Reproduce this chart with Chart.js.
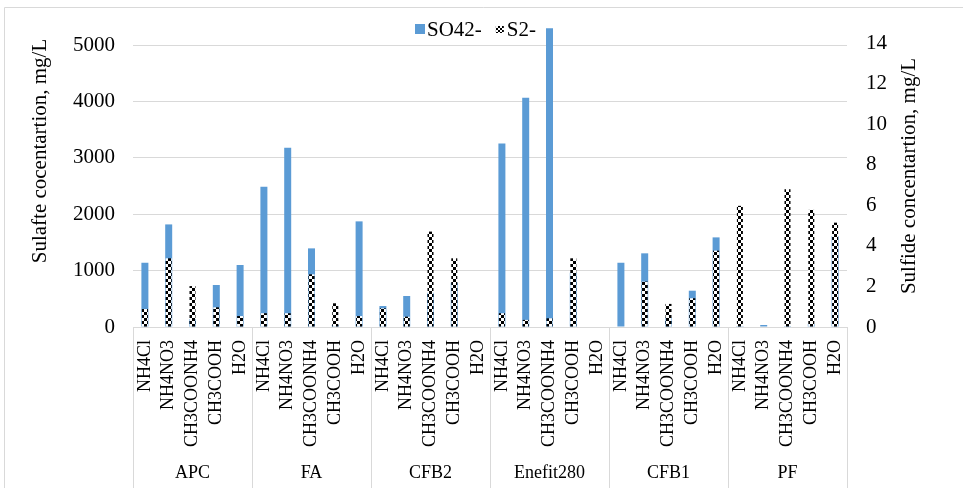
<!DOCTYPE html>
<html>
<head>
<meta charset="utf-8">
<script src="https://cdn.jsdelivr.net/npm/chart.js@4.4.1/dist/chart.umd.min.js"></script>
<style>
  html, body { margin: 0; padding: 0; background: #fff; }
  #wrap { width: 963px; height: 488px; position: relative; }
</style>
</head>
<body>
<div id="wrap"><canvas id="grafica" width="963" height="488"></canvas></div>
<script>
const grupos = ['APC', 'FA', 'CFB2', 'Enefit280', 'CFB1', 'PF'];
const soluciones = ['NH4Cl', 'NH4NO3', 'CH3COONH4', 'CH3COOH', 'H2O'];

// SO42- (mg/L, left axis), one value per group x solution
const sulfato = [
    1140, 1820, 142, 745, 1100,
    2488, 3180, 1395, 35, 1874,
    372, 550, 608, 785, 0,
    3257, 4066, 5301, 963, 0,
    1140, 1307, 165, 644, 1590,
    18, 35, 18, 53, 1613
];
// S2- (mg/L, right axis)
const sulfuro = [
    0.89, 3.39, 2.02, 0.97, 0.54,
    0.68, 0.68, 2.60, 1.17, 0.54,
    0.92, 0.51, 4.71, 3.39, 0,
    0.68, 0.35, 0.43, 3.39, 0,
    0, 2.24, 1.14, 1.42, 3.77,
    5.98, 0, 6.80, 5.78, 5.15
];
const ticksIzq = [0, 1000, 2000, 3000, 4000, 5000];
const ticksDer = [0, 2, 4, 6, 8, 10, 12, 14];
const tituloIzq = 'Sulafte cocentartion, mg/L';
const tituloDer = 'Sulfide concentartion, mg/L';

const etiquetas = [];
grupos.forEach(g => soluciones.forEach(s => etiquetas.push(s)));

const fuente = "'Liberation Serif', 'Times New Roman', serif";
const gris = '#d9d9d9';
const azul = '#5B9BD5';

function crearCuadros(tam) {
    const c = document.createElement('canvas');
    c.width = tam * 2;
    c.height = tam * 2;
    const cx = c.getContext('2d');
    cx.fillStyle = '#fff';
    cx.fillRect(0, 0, tam * 2, tam * 2);
    cx.fillStyle = '#000';
    cx.fillRect(0, 0, tam, tam);
    cx.fillRect(tam, tam, tam, tam);
    return cx.createPattern(c, 'repeat');
}

function textoVertical(ctx, texto, x, y) {
    ctx.save();
    ctx.translate(x, y);
    ctx.rotate(-Math.PI / 2);
    ctx.textAlign = 'center';
    ctx.textBaseline = 'middle';
    ctx.fillText(texto, 0, 0);
    ctx.restore();
}

// frame, group separators, group names, axis titles and legend
const extrasPlugin = {
    id: 'extrasPlugin',
    beforeDraw(chart) {
        const ctx = chart.ctx;
        ctx.save();
        ctx.strokeStyle = gris;
        ctx.lineWidth = 1;
        ctx.beginPath();
        ctx.moveTo(4.5, 488);
        ctx.lineTo(4.5, 7.5);
        ctx.lineTo(963, 7.5);
        ctx.stroke();
        ctx.restore();
    },
    afterDraw(chart) {
        const ctx = chart.ctx;
        const x = chart.scales.x;
        const paso = (x.right - x.left) / etiquetas.length;
        const abajo = chart.chartArea.bottom;
        ctx.save();
        ctx.strokeStyle = gris;
        ctx.lineWidth = 1;
        for (let g = 0; g <= grupos.length; g++) {
            const px = Math.round(x.left + g * soluciones.length * paso) + 0.5;
            ctx.beginPath();
            ctx.moveTo(px, abajo);
            ctx.lineTo(px, 488);
            ctx.stroke();
        }
        ctx.fillStyle = '#000';
        ctx.font = '18px ' + fuente;
        ctx.textAlign = 'center';
        ctx.textBaseline = 'middle';
        grupos.forEach((g, i) => {
            const cx = x.left + (i + 0.5) * soluciones.length * paso;
            ctx.fillText(g, cx, 473);
        });

        ctx.font = '21px ' + fuente;
        textoVertical(ctx, tituloIzq, 40, 151);
        textoVertical(ctx, tituloDer, 909, 176);

        // legend
        const ds = chart.data.datasets;
        ctx.textAlign = 'left';
        ctx.textBaseline = 'middle';
        let lx = 415;
        const ly = 30;
        ctx.fillStyle = ds[0].backgroundColor;
        ctx.fillRect(lx, ly - 6, 10, 10);
        ctx.fillStyle = '#000';
        ctx.fillText(ds[0].label, lx + 12, ly);
        lx = lx + 12 + ctx.measureText(ds[0].label).width + 14;
        ctx.fillStyle = crearCuadros(2);
        ctx.fillRect(lx, ly - 4, 8, 7);
        ctx.fillStyle = '#000';
        ctx.fillText(ds[1].label, lx + 11, ly);
        ctx.restore();
    }
};

const ctx = document.getElementById('grafica').getContext('2d');
new Chart(ctx, {
    type: 'bar',
    data: {
        labels: etiquetas,
        datasets: [
            {
                label: 'SO42-',
                data: sulfato,
                yAxisID: 'y',
                backgroundColor: azul,
                borderWidth: 0,
                inflateAmount: 0,
                barThickness: 7,
                grouped: false,
                order: 2
            },
            {
                label: 'S2-',
                data: sulfuro,
                yAxisID: 'y1',
                backgroundColor: crearCuadros(3),
                borderWidth: 0,
                inflateAmount: 0,
                barThickness: 6,
                grouped: false,
                order: 1
            }
        ]
    },
    options: {
        responsive: false,
        animation: false,
        layout: { padding: { top: 17, left: 10, right: 36, bottom: 0 } },
        plugins: {
            tooltip: { enabled: false },
            legend: { display: false }
        },
        scales: {
            x: {
                grid: { display: false, drawTicks: false },
                border: { display: true, color: gris },
                ticks: {
                    autoSkip: false,
                    minRotation: 90,
                    maxRotation: 90,
                    padding: 13,
                    color: '#000',
                    font: { family: fuente, size: 18 }
                },
                afterFit(scale) { scale.height = 161; }
            },
            y: {
                position: 'left',
                min: 0,
                max: 5500,
                afterBuildTicks(axis) {
                    axis.ticks = ticksIzq.map(v => ({ value: v }));
                },
                grid: { color: gris, lineWidth: 1, drawTicks: true, tickLength: 18, tickColor: 'transparent' },
                border: { display: false },
                ticks: {
                    padding: 0,
                    color: '#000',
                    font: { family: fuente, size: 21 },
                    callback: v => String(v)
                },
                afterFit(scale) { scale.width = 123; }
            },
            y1: {
                position: 'right',
                min: 0,
                max: 15.3,
                afterBuildTicks(axis) {
                    axis.ticks = ticksDer.map(v => ({ value: v }));
                },
                grid: { drawOnChartArea: false, drawTicks: true, tickLength: 19, tickColor: 'transparent' },
                border: { display: false },
                ticks: {
                    padding: 0,
                    color: '#000',
                    font: { family: fuente, size: 21 },
                    callback: v => String(v)
                },
                afterFit(scale) { scale.width = 80; }
            }
        }
    },
    plugins: [extrasPlugin]
});
</script>
</body>
</html>
